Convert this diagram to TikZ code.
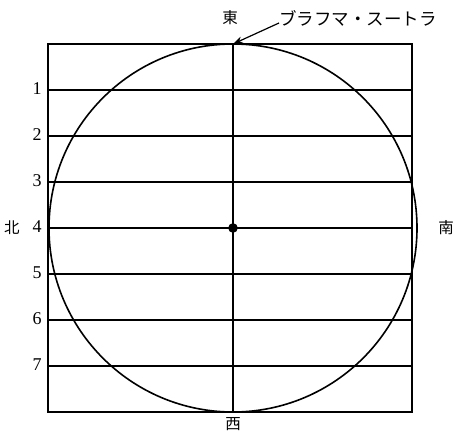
\documentclass[tikz,border=0pt]{standalone}
\usepackage{fontspec}
\newfontfamily\jp{Noto Sans CJK JP}
\newfontfamily\digits{Liberation Serif}
\usetikzlibrary{arrows.meta}
\begin{document}
\begin{tikzpicture}[x=1pt,y=-1pt,
  frame/.style={line width=1.2pt},
  circ/.style={line width=1.6pt},
  num/.style={font=\digits\fontsize{18}{18}\selectfont, inner sep=0pt},
  dir/.style={font=\jp\fontsize{15.5}{16}\selectfont, inner sep=0pt},
  lbl/.style={font=\jp\fontsize{17.5}{18}\selectfont, inner sep=0pt, anchor=west}]
\useasboundingbox (0,0) rectangle (454,433);
\coordinate (tl) at (48,44);
\coordinate (br) at (412,412);
\draw[frame] (tl) rectangle (br);
\foreach \k in {1,...,7}{
  \coordinate (L\k) at (48,{44+46*\k});
  \coordinate (R\k) at (412,{44+46*\k});
  \draw[frame] (L\k) -- (R\k);
  \node[num] (n\k) at (37,{44+46*\k-1}) {\k};
}
\coordinate (top) at (233,44);
\coordinate (bot) at (233,412);
\draw[frame] (top) -- (bot);
\node[circle, draw, circ, minimum size=368pt, inner sep=0pt] (c) at (233,228) {};
\fill (233,228) circle (4.8pt);
\node[dir] (east) at (230,18) {東};
\node[dir] (west) at (233,424) {西};
\node[dir] (north) at (12,228) {北};
\node[dir] (south) at (446,228) {南};
\node[lbl] (bs) at (279,18) {ブラフマ・スートラ};
\draw[line width=1.2pt, -{Stealth[length=10pt,width=7pt]}] (bs.west) ++(0,5) -- (top);
\end{tikzpicture}
\end{document}
